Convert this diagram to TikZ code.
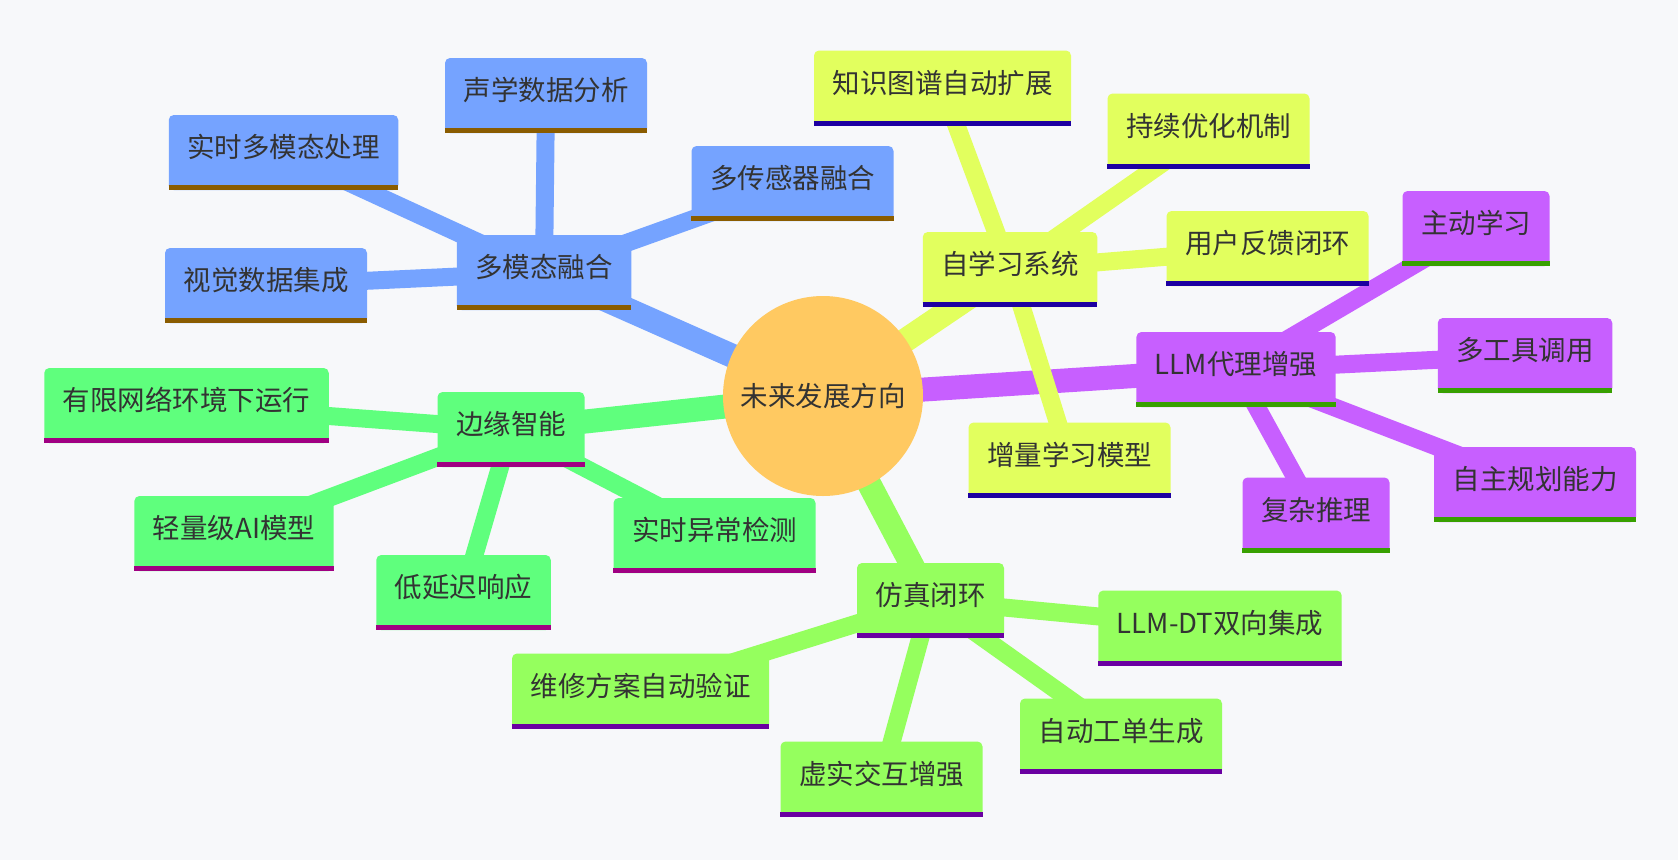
\documentclass[tikz,border=0pt]{standalone}
\usepackage{fontspec}
\setmainfont{Noto Sans CJK SC}
\definecolor{bgc}{HTML}{F7F8FA}
\definecolor{txtc}{HTML}{333333}
\definecolor{rootc}{HTML}{FFC961}
\definecolor{mmfill}{HTML}{75A3FF}
\definecolor{mmline}{HTML}{8A5C00}
\definecolor{slfill}{HTML}{E2FF5E}
\definecolor{slline}{HTML}{1D00A1}
\definecolor{llmfill}{HTML}{C75FFF}
\definecolor{llmline}{HTML}{38A000}
\definecolor{eifill}{HTML}{5FFF7D}
\definecolor{eiline}{HTML}{A00082}
\definecolor{simfill}{HTML}{95FF5E}
\definecolor{simline}{HTML}{6A00A1}
\pgfdeclarelayer{paper}
\pgfdeclarelayer{links}
\pgfsetlayers{paper,links,main}
\tikzset{
  rootnode/.style = {circle, fill=rootc, minimum size=200pt, inner sep=0pt,
                     text height=25pt, text depth=5pt},
  box/.style      = {rectangle, rounded corners=5pt, minimum height=75pt,
                     inner xsep=18.5pt, inner ysep=0pt,
                     text height=20pt, text depth=10pt},
  uline/.style    = {append after command={([yshift=2.5pt]\tikzlastnode.south west)
                     edge[draw=#1, line width=5pt, rounded corners=0pt]
                     ([yshift=2.5pt]\tikzlastnode.south east)}},
  mmbox/.style    = {box, fill=mmfill, uline=mmline},
  slbox/.style    = {box, fill=slfill, uline=slline},
  llmbox/.style   = {box, fill=llmfill, uline=llmline},
  eibox/.style    = {box, fill=eifill, uline=eiline},
  simbox/.style   = {box, fill=simfill, uline=simline},
  trunk/.style    = {line width=24pt},
  twig/.style     = {line width=18pt},
}
\begin{document}
\begin{tikzpicture}[x=1pt, y=-1pt, font=\fontsize{27.5}{33}\selectfont, text=txtc]
  \begin{pgfonlayer}{paper}
    \fill[bgc] (0,0) rectangle (1678,860);
  \end{pgfonlayer}

  \node[rootnode] (root) at (823,396) {未来发展方向};

  \node[mmbox]  (mm)  at (544,272.5)  {多模态融合};
  \node[slbox]  (sl)  at (1010,269.5) {自学习系统};
  \node[llmbox] (llm) at (1236,369.5) {LLM代理增强};
  \node[eibox]  (ei)  at (511,429.5)  {边缘智能};
  \node[simbox] (sim) at (930.5,600.5) {仿真闭环};

  \node[mmbox] (acoustic) at (546,95.5)    {声学数据分析};
  \node[mmbox] (sensor)   at (792.5,183.5) {多传感器融合};
  \node[mmbox] (realtime) at (283.5,152.5) {实时多模态处理};
  \node[mmbox] (vision)   at (266,285.5)   {视觉数据集成};

  \node[slbox] (kg)       at (942.5,88)    {知识图谱自动扩展};
  \node[slbox] (optim)    at (1208.5,131)  {持续优化机制};
  \node[slbox] (feedback) at (1267.5,248.5) {用户反馈闭环};
  \node[slbox] (incr)     at (1069.5,460)  {增量学习模型};

  \node[llmbox] (active) at (1476,228.5) {主动学习};
  \node[llmbox] (tools)  at (1525,355.5) {多工具调用};
  \node[llmbox] (plan)   at (1535,484.5) {自主规划能力};
  \node[llmbox] (reason) at (1316,515)   {复杂推理};

  \node[eibox] (offline) at (186.5,405.5) {有限网络环境下运行};
  \node[eibox] (light)   at (234,533.5)   {轻量级AI模型};
  \node[eibox] (latency) at (463.5,592.5) {低延迟响应};
  \node[eibox] (anomaly) at (714.5,535.5) {实时异常检测};

  \node[simbox] (dt)     at (1220,628)   {LLM-DT双向集成};
  \node[simbox] (repair) at (640.5,691)  {维修方案自动验证};
  \node[simbox] (vr)     at (881.5,779)  {虚实交互增强};
  \node[simbox] (order)  at (1121,736)   {自动工单生成};

  \begin{pgfonlayer}{links}
    \draw[trunk, mmfill]  (root.center) -- (mm.center);
    \draw[trunk, slfill]  (root.center) -- (sl.center);
    \draw[trunk, llmfill] (root.center) -- (llm.center);
    \draw[trunk, eifill]  (root.center) -- (ei.center);
    \draw[trunk, simfill] (root.center) -- (sim.center);

    \draw[twig, mmfill] (mm.center) -- (acoustic.center);
    \draw[twig, mmfill] (mm.center) -- (sensor.center);
    \draw[twig, mmfill] (mm.center) -- (realtime.center);
    \draw[twig, mmfill] (mm.center) -- (vision.center);

    \draw[twig, slfill] (sl.center) -- (kg.center);
    \draw[twig, slfill] (sl.center) -- (optim.center);
    \draw[twig, slfill] (sl.center) -- (feedback.center);
    \draw[twig, slfill] (sl.center) -- (incr.center);

    \draw[twig, llmfill] (llm.center) -- (active.center);
    \draw[twig, llmfill] (llm.center) -- (tools.center);
    \draw[twig, llmfill] (llm.center) -- (plan.center);
    \draw[twig, llmfill] (llm.center) -- (reason.center);

    \draw[twig, eifill] (ei.center) -- (offline.center);
    \draw[twig, eifill] (ei.center) -- (light.center);
    \draw[twig, eifill] (ei.center) -- (latency.center);
    \draw[twig, eifill] (ei.center) -- (anomaly.center);

    \draw[twig, simfill] (sim.center) -- (dt.center);
    \draw[twig, simfill] (sim.center) -- (repair.center);
    \draw[twig, simfill] (sim.center) -- (vr.center);
    \draw[twig, simfill] (sim.center) -- (order.center);
  \end{pgfonlayer}
\end{tikzpicture}
\end{document}
